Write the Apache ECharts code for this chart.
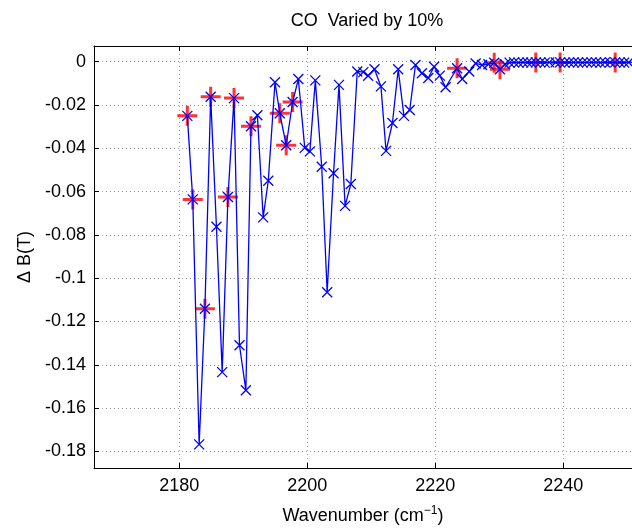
<!DOCTYPE html>
<html>
<head>
<meta charset="utf-8">
<script src="https://cdn.jsdelivr.net/npm/echarts@6/dist/echarts.min.js"></script>
<style>html,body{margin:0;padding:0;background:#fff;}#c{width:632px;height:530px;}</style>
</head>
<body>
<div id="c"></div>
<script>
// Blue series (x markers joined by a line)
const waveBlue = [2181.25, 2182.1, 2183.1, 2184.0, 2184.9, 2185.8, 2186.7, 2187.6, 2188.55, 2189.4,
  2190.4, 2191.2, 2192.2, 2193.1, 2193.9, 2194.95, 2195.7, 2196.7, 2197.7, 2198.6,
  2199.6, 2200.4, 2201.25, 2202.25, 2203.1, 2204.1, 2204.95, 2205.9, 2206.8, 2207.8,
  2208.75, 2209.5, 2210.5, 2211.5, 2212.3, 2213.3, 2214.2, 2215.1, 2216.0, 2216.9,
  2217.9, 2218.9, 2219.8, 2220.7, 2221.6, 2223.4, 2224.2, 2225.3, 2226.3, 2227.3,
  2228.3, 2229.2, 2230.1, 2230.9, 2231.6, 2232.3, 2233.0, 2233.7, 2234.4, 2235.0,
  2235.7, 2236.4, 2237.1, 2237.8, 2238.8, 2239.5, 2240.2, 2240.9, 2241.6, 2242.3,
  2243.0, 2243.7, 2244.4, 2245.1, 2245.8, 2246.5, 2247.3, 2248.1, 2248.8, 2249.5,
  2250.2, 2250.9];
const dBBlue = [-0.0250, -0.0636, -0.1768, -0.1141, -0.0162, -0.0762, -0.1434, -0.0625, -0.0168, -0.1310,
  -0.1518, -0.0298, -0.0247, -0.0719, -0.0550, -0.0095, -0.0238, -0.0386, -0.0186, -0.0080,
  -0.0398, -0.0414, -0.0086, -0.0485, -0.1065, -0.0515, -0.0107, -0.0666, -0.0565, -0.0045,
  -0.0048, -0.0065, -0.0035, -0.0114, -0.0412, -0.0283, -0.0035, -0.0250, -0.0223, -0.0015,
  -0.0053, -0.0075, -0.0023, -0.0064, -0.0118, -0.0030, -0.0080, -0.0045, -0.0008, -0.0015,
  -0.0012, -0.0005, -0.0035, -0.0012, -0.0004, -0.0003, -0.0004, -0.0003, -0.0003, -0.0004,
  -0.0003, -0.0003, -0.0004, -0.0003, -0.0003, -0.0003, -0.0004, -0.0003, -0.0003, -0.0003,
  -0.0004, -0.0003, -0.0003, -0.0003, -0.0004, -0.0003, -0.0003, -0.0003, -0.0003, -0.0004,
  -0.0003, -0.0003];
// Red series (+ markers)
const waveRed = [2181.25, 2182.1, 2184.0, 2184.9, 2187.6, 2188.55, 2191.2, 2195.7, 2196.7, 2197.7,
  2223.4, 2229.2, 2230.1, 2235.7, 2239.5, 2248.1];
const dBRed = [-0.0250, -0.0636, -0.1141, -0.0162, -0.0625, -0.0168, -0.0298, -0.0238, -0.0386, -0.0186,
  -0.0030, -0.0005, -0.0035, -0.0003, -0.0003, -0.0003];
// Tick labels
const xTicks = [2180, 2200, 2220, 2240];
const yTicks = [0, -0.02, -0.04, -0.06, -0.08, -0.1, -0.12, -0.14, -0.16, -0.18];

const FONT = 'Liberation Sans';
const FS = 18;
const blueData = waveBlue.map((w, i) => [w, dBBlue[i]]);
const redData = waveRed.map((w, i) => [w, dBRed[i]]);
const gridLine = {show: true, lineStyle: {color: '#9a9a9a', type: [1, 3], width: 1}};

const chart = echarts.init(document.getElementById('c'), null, {renderer: 'canvas'});
chart.setOption({
  animation: false,
  backgroundColor: '#fff',
  title: {
    text: 'CO  Varied by 10%', left: 362, top: 7, textAlign: 'center',
    textStyle: {fontFamily: FONT, fontSize: FS, fontWeight: 'normal', color: '#000'}
  },
  grid: {left: 94, top: 46, right: 0, bottom: 56, containLabel: false},
  xAxis: [{
    type: 'value', min: 2166.67, max: 2250.73, position: 'bottom',
    name: 'Wavenumber (cm{sup|−1})', nameLocation: 'middle', nameGap: 37,
    nameTextStyle: {fontFamily: FONT, fontSize: FS, color: '#000',
      rich: {sup: {fontFamily: FONT, fontSize: 12, color: '#000', padding: [0, 0, 10, 0]}}},
    axisLine: {show: true, onZero: false, lineStyle: {color: '#000', width: 1}},
    axisTick: {show: true, inside: true, length: 5, customValues: xTicks, lineStyle: {color: '#000'}},
    axisLabel: {customValues: xTicks, fontFamily: FONT, fontSize: FS, color: '#000', margin: 9,
      formatter: v => String(v)},
    splitLine: gridLine
  }, {
    type: 'value', min: 2166.67, max: 2250.73, position: 'top',
    axisLine: {show: true, onZero: false, lineStyle: {color: '#000', width: 1}},
    axisTick: {show: true, inside: true, length: 5, customValues: xTicks, lineStyle: {color: '#000'}},
    axisLabel: {show: false},
    splitLine: {show: false}
  }],
  yAxis: [{
    type: 'value', min: -0.1877, max: 0.00727,
    name: 'Δ B(T)', nameLocation: 'middle', nameRotate: 90, nameGap: 56,
    nameTextStyle: {fontFamily: FONT, fontSize: FS, color: '#000'},
    axisLine: {show: true, onZero: false, lineStyle: {color: '#000', width: 1}},
    axisTick: {show: true, inside: true, length: 5, customValues: yTicks, lineStyle: {color: '#000'}},
    axisLabel: {customValues: yTicks, fontFamily: FONT, fontSize: FS, color: '#000', margin: 8,
      formatter: v => String(v)},
    splitLine: gridLine
  }],
  series: [{
    type: 'scatter', name: 'red', data: redData, z: 2,
    symbol: 'path://M5,0L5,10M0,5L10,5', symbolSize: 20,
    itemStyle: {color: 'none', borderColor: '#ff0000', borderWidth: 3}
  }, {
    type: 'line', name: 'blue', data: blueData, z: 3,
    symbol: 'path://M0,0L10,10M10,0L0,10', symbolSize: 10, showAllSymbol: true,
    lineStyle: {color: '#0000ff', width: 1.3},
    itemStyle: {color: 'none', borderColor: '#0000ff', borderWidth: 1.3}
  }]
});
</script>
</body>
</html>
